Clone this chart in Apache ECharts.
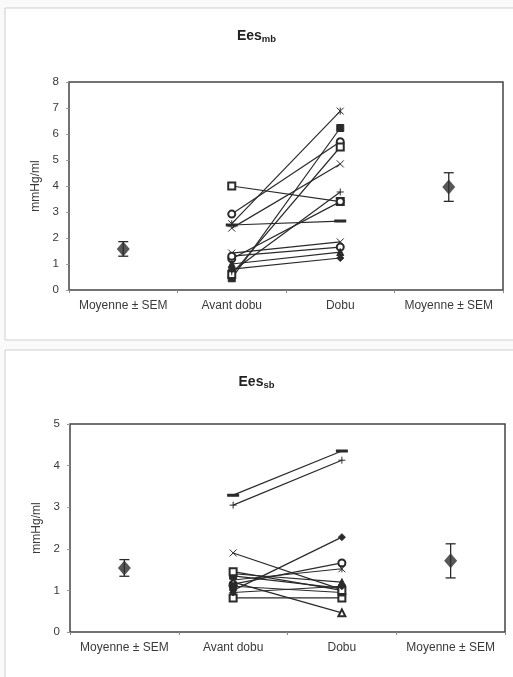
<!DOCTYPE html>
<html>
<head>
<meta charset="utf-8">
<script src="https://cdn.jsdelivr.net/npm/echarts@6/dist/echarts.min.js"></script>
<style>
  html, body { margin: 0; padding: 0; background: #fafafa; }
  #chart { width: 513px; height: 677px; }
</style>
</head>
<body>
<div id="chart"></div>
<script>
// Categories along the x axis (both panels)
const categories = ['Moyenne ± SEM', 'Avant dobu', 'Dobu', 'Moyenne ± SEM'];

// Ees_mb : individual subjects, before (Avant dobu) and during dobutamine (Dobu)
const mbAvant = [4.0, 2.92, 2.55, 2.38, 2.5, 0.45, 0.6, 0.7, 1.2, 1.42, 1.3, 1.0, 0.8];
const mbDobu  = [3.4, 5.7, 6.88, 4.85, 2.65, 6.23, 5.5, 3.77, 3.4, 1.85, 1.65, 1.46, 1.23];
const mbMarkers = ['emptyRect', 'emptyCircle', 'star', 'cross', 'dash', 'rect', 'emptyRect',
                   'plus', 'emptyCircle', 'cross', 'emptyCircle', 'triangle', 'diamond'];
// Ees_mb : mean ± SEM before / during
const mbMean = [1.58, 3.96];
const mbSem  = [0.28, 0.55];
const mbTicks = [0, 1, 2, 3, 4, 5, 6, 7, 8];

// Ees_sb : individual subjects
const sbAvant = [3.29, 3.05, 1.9, 1.0, 1.15, 1.25, 1.4, 1.2, 0.82, 1.35, 1.1, 1.45, 0.95];
const sbDobu  = [4.35, 4.13, 1.02, 2.28, 1.66, 1.52, 1.2, 0.46, 0.82, 1.05, 0.95, 1.0, 1.1];
const sbMarkers = ['dash', 'plus', 'cross', 'diamond', 'emptyCircle', 'star', 'triangle',
                   'emptyTriangle', 'emptyRect', 'rect', 'rect', 'emptyRect', 'diamond'];
const sbMean = [1.54, 1.71];
const sbSem  = [0.2, 0.41];
const sbTicks = [0, 1, 2, 3, 4, 5];

const INK = '#2a2a2a';
const FONT = 'Liberation Sans';

// Custom stroked glyphs for the markers ECharts does not ship
const glyphs = {
  cross: 'path://M0,0L10,10M10,0L0,10',
  plus: 'path://M5,0L5,10M0,5L10,5',
  star: 'path://M0,0L10,10M10,0L0,10M5,0L5,10',
  dash: 'path://M0,4L10,4L10,6L0,6Z'
};

function subjectSeries(avant, dobu, markers, gridIdx) {
  return avant.map((a, i) => {
    const m = markers[i];
    const isGlyph = glyphs[m] !== undefined;
    return {
      type: 'line',
      xAxisIndex: gridIdx,
      yAxisIndex: gridIdx,
      data: ['-', a, dobu[i], '-'],
      symbol: isGlyph ? glyphs[m] : m,
      symbolSize: m === 'dash' ? [8, 2] : 7,
      showSymbol: true,
      connectNulls: false,
      silent: true,
      lineStyle: { color: INK, width: 1.2 },
      itemStyle: { color: INK, borderColor: INK, borderWidth: 1 },
      z: 3
    };
  });
}

function meanSeries(mean, sem, gridIdx) {
  const pts = [[0, mean[0], sem[0]], [3, mean[1], sem[1]]];
  return [
    {
      type: 'custom',
      xAxisIndex: gridIdx,
      yAxisIndex: gridIdx,
      data: pts,
      silent: true,
      renderItem: function (params, api) {
        const x = api.value(0);
        const hi = api.coord([x, api.value(1) + api.value(2)]);
        const lo = api.coord([x, api.value(1) - api.value(2)]);
        const w = 5;
        const st = { stroke: INK, lineWidth: 1.3 };
        return {
          type: 'group',
          children: [
            { type: 'line', shape: { x1: hi[0], y1: hi[1], x2: lo[0], y2: lo[1] }, style: st },
            { type: 'line', shape: { x1: hi[0] - w, y1: hi[1], x2: hi[0] + w, y2: hi[1] }, style: st },
            { type: 'line', shape: { x1: lo[0] - w, y1: lo[1], x2: lo[0] + w, y2: lo[1] }, style: st }
          ]
        };
      },
      z: 2
    },
    {
      type: 'scatter',
      xAxisIndex: gridIdx,
      yAxisIndex: gridIdx,
      data: pts.map(p => [p[0], p[1]]),
      symbol: 'diamond',
      symbolSize: [13, 15],
      silent: true,
      itemStyle: { color: '#2e2e2e' },
      z: 4
    }
  ];
}

function xAxisFor(gridIdx) {
  return {
    type: 'category',
    gridIndex: gridIdx,
    data: categories,
    boundaryGap: true,
    axisLine: { show: false },
    axisTick: { show: true, length: 3, lineStyle: { color: '#888' } },
    axisLabel: { color: '#3a3a3a', fontSize: 12, fontFamily: FONT, margin: 10, interval: 0, hideOverlap: false },
    splitLine: { show: false }
  };
}

function yAxisFor(gridIdx, ticks) {
  return {
    type: 'value',
    gridIndex: gridIdx,
    min: ticks[0],
    max: ticks[ticks.length - 1],
    interval: 1,
    name: 'mmHg/ml',
    nameLocation: 'middle',
    nameGap: 26,
    nameRotate: 90,
    nameTextStyle: { color: '#3a3a3a', fontSize: 12, fontFamily: FONT },
    axisLine: { show: false },
    axisTick: { show: true, length: 3, lineStyle: { color: '#999' } },
    axisLabel: { color: '#3a3a3a', fontSize: 11.5, fontFamily: FONT, margin: 10 },
    splitLine: { show: false }
  };
}

function titleFor(sub, top) {
  return {
    text: '{a|Ees}{b|' + sub + '}',
    left: 'center',
    top: top,
    textStyle: {
      rich: {
        a: { fontSize: 14, fontWeight: 'bold', color: '#222', fontFamily: FONT, lineHeight: 16 },
        b: { fontSize: 9.5, fontWeight: 'bold', color: '#222', fontFamily: FONT, lineHeight: 16, padding: [7, 0, 0, 0] }
      }
    }
  };
}

const chart = echarts.init(document.getElementById('chart'), null, { renderer: 'canvas' });

chart.setOption({
  animation: false,
  backgroundColor: '#fafafa',
  graphic: [
    { type: 'rect', shape: { x: 5, y: 8, width: 512, height: 332 },
      style: { fill: '#fff', stroke: '#cfcfcf', lineWidth: 1 }, z: -10 },
    { type: 'rect', shape: { x: 5, y: 350, width: 512, height: 335 },
      style: { fill: '#fff', stroke: '#cfcfcf', lineWidth: 1 }, z: -10 }
  ],
  title: [titleFor('mb', 23), titleFor('sb', 369)],
  grid: [
    { left: 69, right: 10, top: 82, height: 208, show: true, borderColor: '#444', borderWidth: 1.5, backgroundColor: 'transparent' },
    { left: 70, right: 8, top: 424, height: 208, show: true, borderColor: '#444', borderWidth: 1.5, backgroundColor: 'transparent' }
  ],
  xAxis: [xAxisFor(0), xAxisFor(1)],
  yAxis: [yAxisFor(0, mbTicks), yAxisFor(1, sbTicks)],
  series: [
    ...subjectSeries(mbAvant, mbDobu, mbMarkers, 0),
    ...meanSeries(mbMean, mbSem, 0),
    ...subjectSeries(sbAvant, sbDobu, sbMarkers, 1),
    ...meanSeries(sbMean, sbSem, 1)
  ]
});
</script>
</body>
</html>
